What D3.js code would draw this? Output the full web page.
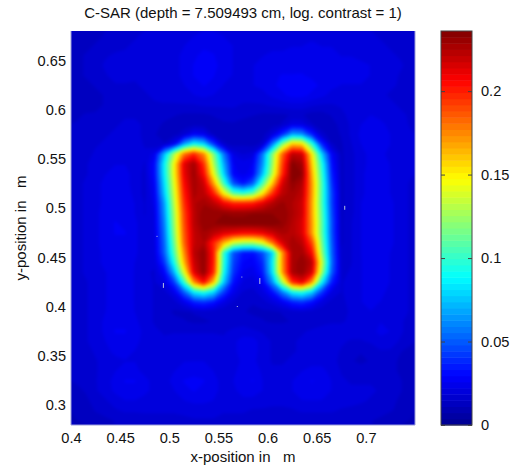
<!DOCTYPE html>
<html>
<head>
<style>
html, body {
    margin: 0;
    padding: 0;
    background: #fff;
    overflow: hidden;
}
text {
    font-family: "Liberation Sans", Arial, sans-serif;
    fill: #111;
}
</style>
</head>
<body>
<script src="https://d3js.org/d3.v7.min.js"></script>
<script>
const xTicks = [0.4, 0.45, 0.5, 0.55, 0.6, 0.65, 0.7];
const yTicks = [0.3, 0.35, 0.4, 0.45, 0.5, 0.55, 0.6, 0.65];
const barTicks = [0, 0.05, 0.1, 0.15, 0.2];
const barLabels = ["0", "0.05", "0.1", "0.15", "0.2"];
const xRange = [0.4, 0.75];
const yRange = [0.28, 0.68];
const zMax = 0.236;
const titleText = "C-SAR (depth = 7.509493 cm, log. contrast = 1)";

// SAR, 0.01 m cells, in 1/1000, top row first
const sar = [
    [12,13,14,15,16,17,18,19,19,20,21,21,22,23,23,22,21,20,20,20,20,20,21,21,21,21,21,20,20,20,19,18,17,16,15],
    [13,14,15,16,17,18,19,19,20,20,21,22,24,25,25,24,22,21,21,21,21,21,22,22,23,22,22,21,21,20,20,19,18,17,16],
    [14,15,16,18,19,19,19,19,19,20,21,23,25,27,26,24,22,21,22,22,23,23,23,23,24,23,23,22,22,21,21,20,19,18,17],
    [14,15,17,19,20,20,19,19,19,20,21,23,26,28,27,24,22,21,22,23,24,24,24,25,25,24,23,23,23,23,22,21,20,19,17],
    [14,15,16,18,20,20,19,19,19,20,21,23,26,28,26,23,22,21,22,23,25,26,26,26,25,24,23,23,23,23,22,21,20,18,17],
    [14,14,15,17,18,18,18,19,19,20,21,22,24,26,25,22,21,21,22,23,25,27,28,29,27,25,23,22,22,22,21,20,19,18,16],
    [13,13,14,15,16,17,18,18,19,20,20,21,22,23,22,21,20,20,20,21,23,25,27,27,25,23,21,21,21,21,20,19,18,17,16],
    [13,13,14,15,16,17,18,18,18,18,18,18,18,19,19,19,19,18,18,18,19,20,21,21,19,18,18,19,20,21,21,20,19,18,17],
    [14,15,15,16,17,18,18,18,17,16,15,14,14,14,15,16,17,16,15,14,14,14,15,15,13,13,15,17,20,22,22,21,20,19,18],
    [15,16,17,17,18,19,19,18,16,14,13,13,13,13,13,14,14,13,12,12,13,15,22,21,15,13,13,16,19,22,24,23,21,20,18],
    [15,16,17,18,19,19,19,18,15,13,13,17,27,24,14,12,12,12,12,13,20,38,66,62,36,16,13,15,19,23,25,24,22,20,19],
    [15,16,18,19,20,20,20,18,15,15,25,66,90,80,42,16,13,14,13,16,58,118,160,155,100,38,15,14,18,22,24,24,22,20,19],
    [16,17,19,20,21,21,21,19,24,72,128,178,198,175,118,58,22,18,20,56,118,182,222,218,150,78,28,14,17,21,23,23,21,20,19],
    [16,18,20,21,22,22,21,18,30,86,145,212,228,195,128,70,26,24,26,62,122,190,234,228,158,94,32,14,17,21,23,23,22,20,19],
    [16,18,20,22,23,23,21,17,30,85,145,210,229,205,142,80,28,24,28,72,130,196,236,232,165,100,36,14,17,21,24,24,22,20,19],
    [17,19,21,23,24,23,21,17,27,80,140,205,228,218,170,105,48,33,50,105,160,215,232,225,170,105,40,14,17,21,24,24,22,20,18],
    [17,19,21,23,24,24,21,17,25,75,135,200,226,222,200,150,108,98,110,150,195,222,228,222,170,105,44,14,17,21,24,24,22,20,18],
    [17,19,21,23,25,24,22,18,23,65,130,195,224,228,222,208,198,198,200,212,224,230,225,218,168,105,44,14,17,22,24,24,23,20,18],
    [17,19,21,24,25,25,22,18,22,62,125,190,222,232,232,232,230,230,232,232,232,232,226,218,168,108,46,14,17,22,24,25,23,20,18],
    [17,19,21,24,26,25,23,19,22,58,122,188,222,232,232,234,236,236,236,236,236,232,224,215,170,110,48,14,18,22,24,25,23,20,18],
    [17,19,21,24,26,26,23,19,21,55,118,185,220,228,222,214,210,206,206,210,218,226,224,215,170,110,48,14,18,22,24,25,23,20,18],
    [17,19,21,24,25,25,23,19,21,52,112,182,220,225,198,165,135,125,125,140,180,215,228,222,190,115,50,14,18,22,24,24,23,20,18],
    [17,19,21,23,25,25,23,19,20,50,105,172,222,232,200,100,48,33,31,46,78,170,225,228,205,122,52,15,18,22,24,24,22,20,18],
    [17,19,21,23,24,24,22,19,19,40,92,162,218,232,200,98,44,29,27,38,85,170,226,232,222,135,54,16,18,22,23,23,22,20,18],
    [17,19,21,22,23,23,22,19,18,28,70,138,212,232,196,92,40,25,23,34,82,168,226,232,215,125,50,17,19,22,23,23,22,20,18],
    [17,18,20,22,23,23,22,20,18,22,42,98,172,205,160,78,32,21,20,27,62,125,195,210,170,88,36,18,20,22,23,23,22,20,18],
    [17,18,20,22,23,23,22,20,18,17,24,50,85,95,80,44,24,18,17,21,32,58,88,95,78,42,22,18,20,22,23,23,21,20,18],
    [17,18,20,22,23,23,22,20,18,16,17,24,36,40,34,23,18,15,15,17,20,26,36,40,32,21,17,17,20,22,23,22,21,20,18],
    [17,18,20,22,24,24,22,20,18,16,14,14,15,16,15,15,15,15,14,14,14,15,16,17,16,16,16,17,19,21,22,22,21,20,18],
    [17,18,20,23,25,25,23,20,18,17,16,15,14,14,15,16,17,17,16,15,14,14,15,16,16,17,18,18,19,21,22,22,21,19,17],
    [16,18,20,23,26,26,24,21,19,18,18,18,18,18,18,18,19,20,19,18,18,18,18,18,19,20,20,20,20,20,21,23,22,19,17],
    [16,18,20,22,25,25,23,21,20,19,20,20,20,20,20,19,21,24,24,20,18,18,18,19,20,20,20,19,18,18,19,21,20,18,16],
    [16,17,19,21,23,23,22,21,20,20,20,21,21,21,20,19,21,24,24,20,18,18,18,19,20,21,20,18,16,15,16,18,18,15,13],
    [15,17,18,20,21,22,22,21,20,20,21,22,22,22,21,19,20,23,23,20,18,18,19,20,21,21,20,17,15,14,15,17,16,14,12],
    [15,16,18,20,22,23,23,21,20,20,22,23,24,24,22,20,21,24,25,21,19,19,20,22,23,23,21,18,16,16,17,17,16,14,13],
    [15,16,18,21,23,26,26,23,21,21,23,26,27,26,23,21,22,25,26,22,20,20,22,24,26,25,22,19,18,18,18,18,16,15,13],
    [14,15,18,20,23,25,25,23,21,21,22,25,26,25,23,21,21,24,24,22,20,20,22,24,25,24,22,20,19,19,19,18,17,15,13],
    [13,14,16,18,20,22,22,21,20,20,21,22,23,23,22,20,20,21,21,20,19,19,20,22,22,22,21,20,19,19,18,17,16,14,13],
    [12,13,15,16,18,19,19,19,19,19,19,20,20,20,20,19,19,19,18,18,18,18,18,19,19,19,19,18,18,17,17,16,15,14,12],
    [11,12,13,14,15,16,16,17,17,17,17,17,18,18,18,17,17,17,16,16,15,15,16,16,16,16,16,16,16,15,15,14,13,12,11]
];

// stray pale pixels in the image: x, y (m), height in m
const speckX = [0.4935, 0.487, 0.678, 0.5733, 0.5916, 0.5687];
const speckY = [0.4242, 0.472, 0.5025, 0.4307, 0.4292, 0.4008];
const speckH = [0.005, 0.001, 0.004, 0.001, 0.006, 0.001];

const jetStops = ["#00008f", "#0000ff", "#00ffff", "#ffff00", "#ff0000", "#800000"];
const jetAt = [0, 0.125, 0.375, 0.625, 0.875, 1];

const [width, height] = [517, 468];
const plot = { left: 71, right: 415, top: 31, bottom: 425 };
const bar = { left: 441, right: 472 };

const x = d3.scaleLinear().domain(xRange).range([plot.left, plot.right]);
const y = d3.scaleLinear().domain(yRange).range([plot.bottom, plot.top]);
const z = d3.scaleLinear().domain([0, zMax]).range([plot.bottom, plot.top]);
const jet = d3.scaleLinear().domain(jetAt).range(jetStops).clamp(true);

const svg = d3.select("body").append("svg")
    .attr("width", width)
    .attr("height", height);

const defs = svg.append("defs");
defs.append("clipPath").attr("id", "plot-clip")
    .append("rect")
        .attr("x", plot.left)
        .attr("y", plot.top)
        .attr("width", plot.right - plot.left)
        .attr("height", plot.bottom - plot.top);
defs.append("filter").attr("id", "soft")
    .attr("x", "-5%").attr("y", "-5%").attr("width", "110%").attr("height", "110%")
    .attr("color-interpolation-filters", "sRGB")
    .append("feGaussianBlur").attr("stdDeviation", 1.4);

// heat map: 64 filled contour levels like the 64 colour colormap
const rows = sar.length;
const cols = sar[0].length;
const levels = d3.range(64).map(k => k * zMax / 64);
const contours = d3.contours()
    .size([cols, rows])
    .thresholds(levels)(sar.flat().map(v => v / 1000));

const toPlot = d3.geoTransform({
    point(gx, gy) {
        this.stream.point(
            x(xRange[0] + gx * (xRange[1] - xRange[0]) / cols),
            y(yRange[1] - gy * (yRange[1] - yRange[0]) / rows)
        );
    }
});
const path = d3.geoPath(toPlot);

const heat = svg.append("g").attr("clip-path", "url(#plot-clip)");
heat.append("rect")
    .attr("x", plot.left)
    .attr("y", plot.top)
    .attr("width", plot.right - plot.left)
    .attr("height", plot.bottom - plot.top)
    .attr("fill", jet(0.016 / zMax));

heat.append("g")
    .attr("filter", "url(#soft)")
    .selectAll("path")
    .data(contours)
    .join("path")
        .attr("d", path)
        .attr("fill", d => jet((d.value + zMax / 128) / zMax))
        .attr("stroke", d => jet((d.value + zMax / 128) / zMax))
        .attr("stroke-width", 0.5);

heat.append("g")
    .selectAll("rect")
    .data(speckX.map((v, i) => ({ x: v, y: speckY[i], h: speckH[i] })))
    .join("rect")
        .attr("x", d => x(d.x))
        .attr("y", d => y(d.y))
        .attr("width", 1)
        .attr("height", d => Math.abs(y(d.y + d.h) - y(d.y)))
        .attr("fill", "#b8c4e0");

// pale edge of the image, the top has none
svg.append("path")
    .attr("d", `M${plot.left},${plot.top}V${plot.bottom}H${plot.right}V${plot.top}`)
    .attr("fill", "none")
    .attr("stroke", "#9a9cd8");

// main axes
const xAxis = svg.append("g")
    .attr("transform", `translate(0,${plot.bottom})`)
    .call(d3.axisBottom(x).tickValues(xTicks).tickFormat(d3.format("~g")).tickSizeInner(0).tickSizeOuter(0).tickPadding(8));
const yAxis = svg.append("g")
    .attr("transform", `translate(${plot.left},0)`)
    .call(d3.axisLeft(y).tickValues(yTicks).tickFormat(d3.format("~g")).tickSizeInner(0).tickSizeOuter(0).tickPadding(5));

[xAxis, yAxis].forEach(g => {
    g.select(".domain").remove();
    g.selectAll("text").attr("font-size", 14.6);
});

// colorbar
const barG = svg.append("g");
barG.selectAll("rect")
    .data(d3.range(64))
    .join("rect")
        .attr("x", bar.left)
        .attr("width", bar.right - bar.left)
        .attr("y", k => z((k + 1) * zMax / 64))
        .attr("height", k => z(k * zMax / 64) - z((k + 1) * zMax / 64) + 0.5)
        .attr("fill", k => jet((k + 0.5) / 64));
barG.append("rect")
    .attr("x", bar.left)
    .attr("y", plot.top)
    .attr("width", bar.right - bar.left)
    .attr("height", plot.bottom - plot.top)
    .attr("fill", "none")
    .attr("stroke", "#444");

const barAxis = svg.append("g")
    .attr("transform", `translate(${bar.right},0)`)
    .call(d3.axisRight(z).tickValues(barTicks).tickFormat((d, i) => barLabels[i]).tickSizeInner(-4).tickSizeOuter(0).tickPadding(9));
barAxis.select(".domain").remove();
barAxis.selectAll(".tick line").attr("stroke", "#444");
barAxis.selectAll("text").attr("font-size", 14.6);
svg.append("g")
    .attr("transform", `translate(${bar.left},0)`)
    .call(d3.axisLeft(z).tickValues(barTicks).tickFormat("").tickSizeInner(-4).tickSizeOuter(0))
    .call(g => g.select(".domain").remove())
    .selectAll(".tick line").attr("stroke", "#444");

// labels
svg.append("text")
    .attr("x", 243)
    .attr("y", 18)
    .attr("text-anchor", "middle")
    .attr("font-size", 15)
    .text(titleText);
svg.append("text")
    .attr("x", 243)
    .attr("y", 462)
    .attr("text-anchor", "middle")
    .attr("font-size", 15)
    .style("white-space", "pre")
    .text("x-position in   m");
svg.append("text")
    .attr("transform", "translate(26,228) rotate(-90)")
    .attr("text-anchor", "middle")
    .attr("font-size", 15)
    .style("white-space", "pre")
    .text("y-position in   m");
</script>
</body>
</html>
